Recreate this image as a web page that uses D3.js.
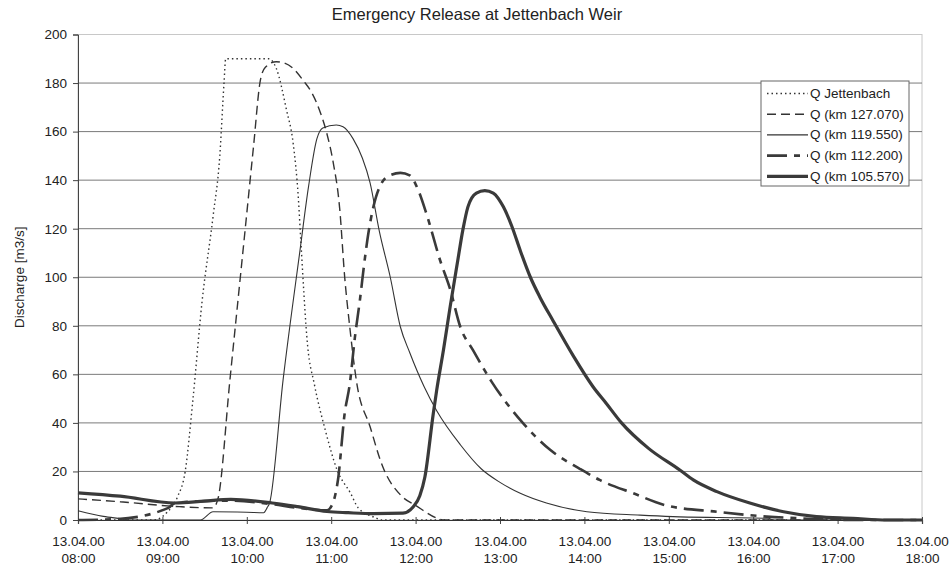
<!DOCTYPE html>
<html>
<head>
<meta charset="utf-8">
<script src="https://cdn.jsdelivr.net/npm/d3@7"></script>
<style>
  html, body { margin: 0; padding: 0; background: #fff; }
  svg { display: block; font-family: "Liberation Sans", Arial, sans-serif; }
</style>
</head>
<body>
<svg id="chart" width="951" height="566"></svg>
<script>
// Discharge hydrographs, 13.04.00; time in decimal hours, discharge in m3/s
const hourTicks = [8, 9, 10, 11, 12, 13, 14, 15, 16, 17, 18];
const dateLabel = "13.04.00";
const timeLabels = ["08:00", "09:00", "10:00", "11:00", "12:00", "13:00", "14:00", "15:00", "16:00", "17:00", "18:00"];
const yTicks = [0, 20, 40, 60, 80, 100, 120, 140, 160, 180, 200];

const qJettenbach = [
  [8.0, 0], [8.9, 0], [9.05, 3], [9.18, 9.6], [9.27, 20], [9.36, 49], [9.47, 90],
  [9.6, 125], [9.68, 150], [9.73, 180], [9.75, 190], [10.26, 190], [10.35, 186],
  [10.47, 169], [10.55, 155], [10.61, 133], [10.64, 115], [10.72, 72], [10.8, 56],
  [10.93, 37], [11.07, 20.6], [11.23, 11], [11.32, 5], [11.52, 1], [11.6, 0], [18.0, 0]
];
const qKm127 = [
  [8.0, 8.7], [8.5, 7.5], [9.2, 5.5], [9.6, 5], [9.66, 9], [9.8, 57.7], [9.98, 119.5],
  [10.08, 154], [10.16, 181], [10.22, 186.5], [10.35, 188.8], [10.43, 188.4],
  [10.55, 186], [10.67, 181], [10.77, 176], [10.87, 168], [10.95, 159], [11.02, 148],
  [11.1, 128.5], [11.16, 100], [11.22, 79.5], [11.3, 57], [11.46, 38.5], [11.61, 22],
  [11.83, 10], [12.0, 6], [12.35, 0], [18.0, 0]
];
const qKm119 = [
  [8.0, 3.8], [8.3, 1.5], [8.55, 0.3], [8.6, 0], [9.45, 0], [9.6, 3.4], [10.0, 3.2],
  [10.2, 3], [10.24, 5], [10.27, 7], [10.43, 57.7], [10.63, 111], [10.73, 137],
  [10.83, 157], [10.9, 161.5], [11.06, 162.7], [11.14, 162], [11.26, 157],
  [11.37, 149], [11.46, 139], [11.57, 119], [11.7, 100], [11.82, 79.5], [11.93, 69],
  [12.1, 55], [12.25, 45], [12.53, 31], [12.78, 21], [13.0, 15.5], [13.24, 11],
  [13.55, 7], [14.03, 3.4], [14.66, 2], [15.05, 1.4], [15.6, 1], [16.18, 0.7],
  [16.24, 0], [18.0, 0]
];
const qKm112 = [
  [8.0, 0], [8.47, 0.4], [9.07, 5], [9.15, 7], [9.5, 7.8], [9.8, 8], [10.3, 6.5],
  [10.6, 5], [10.95, 4], [11.02, 7], [11.08, 16.5], [11.16, 44], [11.22, 56],
  [11.28, 75], [11.34, 90.6], [11.4, 108], [11.44, 118], [11.5, 129], [11.6, 139],
  [11.7, 142], [11.82, 143], [11.93, 142], [12.03, 136], [12.13, 126], [12.29, 107],
  [12.41, 95], [12.53, 79.5], [12.68, 70], [12.9, 57], [13.27, 40], [13.59, 29],
  [13.95, 21], [14.18, 16.5], [14.58, 11], [14.97, 6], [15.57, 3.4], [16.16, 1.4],
  [16.55, 0.7], [17.15, 0], [18.0, 0]
];
const qKm105 = [
  [8.0, 11.2], [8.5, 9.8], [9.15, 7], [9.5, 7.8], [9.81, 8.5], [10.3, 7],
  [10.6, 5.5], [10.95, 3.5], [11.2, 3], [11.5, 2.6], [11.85, 2.8], [11.97, 5.4],
  [12.05, 10], [12.11, 17.7], [12.21, 44], [12.25, 53.5], [12.33, 70], [12.41, 88],
  [12.5, 107], [12.56, 119.5], [12.62, 129], [12.72, 134.7], [12.82, 135.7],
  [12.92, 134.7], [13.04, 129], [13.14, 121], [13.24, 111], [13.36, 100], [13.47, 92],
  [13.63, 82], [13.87, 67.5], [14.1, 55], [14.26, 48], [14.44, 40], [14.76, 29.5],
  [15.13, 20.6], [15.29, 16.5], [15.57, 11.7], [15.96, 7], [16.36, 3.4],
  [16.75, 1.4], [17.18, 0.7], [17.58, 0], [18.0, 0]
];

const seriesNames = ["Q Jettenbach", "Q (km 127.070)", "Q (km 119.550)", "Q (km 112.200)", "Q (km 105.570)"];
const seriesData = [qJettenbach, qKm127, qKm119, qKm112, qKm105];

// Line styles per series, in series order
const styles = [
  { width: 1.4, dash: "1.5,3", color: "#333" },
  { width: 1.4, dash: "9,5", color: "#333" },
  { width: 1.1, dash: null, color: "#333" },
  { width: 2.6, dash: "20,7,6,7", color: "#3a3a3a" },
  { width: 3.2, dash: null, color: "#3a3a3a" }
];

const svg = d3.select("#chart");
const margin = { left: 78, right: 29, top: 34.5, bottom: 46 };
const W = 951, H = 566;
const FONT = "Liberation Sans, Arial, sans-serif";

const x = d3.scaleLinear().domain([8, 18]).range([margin.left, W - margin.right]);
const y = d3.scaleLinear().domain([0, 200]).range([H - margin.bottom, margin.top]);

// Title
svg.append("text")
  .attr("x", 477).attr("y", 19.5)
  .attr("text-anchor", "middle")
  .attr("font-size", 16.5).attr("fill", "#222")
  .text("Emergency Release at Jettenbach Weir");

// Plot frame (top and right edges are faint)
svg.append("rect")
  .attr("x", x(8)).attr("y", y(200))
  .attr("width", x(18) - x(8)).attr("height", y(0) - y(200))
  .attr("fill", "none").attr("stroke", "#c8c8c8").attr("stroke-width", 1);

// Horizontal grid
svg.append("g")
  .selectAll("line")
  .data(yTicks.filter(v => v > 0 && v < 200))
  .join("line")
  .attr("x1", x(8)).attr("x2", x(18))
  .attr("y1", d => y(d)).attr("y2", d => y(d))
  .attr("stroke", "#7a7a7a").attr("stroke-width", 1);

// Y axis
const yAxis = svg.append("g")
  .attr("transform", `translate(${x(8)},0)`)
  .call(d3.axisLeft(y).tickValues(yTicks).tickSize(5).tickPadding(6));
yAxis.select(".domain").attr("stroke", "#444");
yAxis.selectAll(".tick line").attr("stroke", "#444");
yAxis.selectAll(".tick text")
  .attr("font-size", 13.5).attr("fill", "#222")
  .attr("font-family", FONT);

// X axis with two-line tick labels
const xAxis = svg.append("g")
  .attr("transform", `translate(0,${y(0)})`)
  .call(d3.axisBottom(x).tickValues(hourTicks).tickSize(4).tickFormat(() => ""));
xAxis.select(".domain").attr("stroke", "#333").attr("stroke-width", 1.2);
xAxis.selectAll(".tick line").attr("stroke", "#444").attr("y1", -3);
xAxis.selectAll(".tick").each(function(d, i) {
  const t = d3.select(this).select("text")
    .attr("font-size", 13.5).attr("fill", "#222")
    .attr("font-family", FONT)
    .attr("y", 0).attr("dy", null);
  t.append("tspan").attr("x", 0).attr("y", 26).text(dateLabel);
  t.append("tspan").attr("x", 0).attr("y", 43).text(timeLabels[i]);
});

// Y axis title
svg.append("text")
  .attr("transform", `translate(24,${(y(0) + y(200)) / 2}) rotate(-90)`)
  .attr("text-anchor", "middle")
  .attr("font-size", 13.5).attr("fill", "#222")
  .text("Discharge [m3/s]");

// Hydrograph lines
const line = d3.line()
  .x(d => x(d[0]))
  .y(d => y(d[1]))
  .curve(d3.curveMonotoneX);

const plot = svg.append("g");
seriesData.forEach((data, i) => {
  const s = styles[i];
  plot.append("path")
    .datum(data)
    .attr("d", line)
    .attr("fill", "none")
    .attr("stroke", s.color)
    .attr("stroke-width", s.width)
    .attr("stroke-linejoin", "round")
    .attr("stroke-dasharray", s.dash);
});

// Legend
const lg = svg.append("g").attr("transform", "translate(761,81)");
lg.append("rect")
  .attr("width", 148).attr("height", 105)
  .attr("fill", "#fff").attr("stroke", "#666").attr("stroke-width", 1);
seriesNames.forEach((name, i) => {
  const s = styles[i];
  const cy = 12.5 + i * 20.7;
  lg.append("line")
    .attr("x1", 6).attr("x2", 47)
    .attr("y1", cy).attr("y2", cy)
    .attr("stroke", s.color)
    .attr("stroke-width", s.width)
    .attr("stroke-dasharray", s.dash);
  lg.append("text")
    .attr("x", 49).attr("y", cy + 4.5)
    .attr("font-size", 13.5).attr("fill", "#222")
    .text(name);
});
</script>
</body>
</html>
